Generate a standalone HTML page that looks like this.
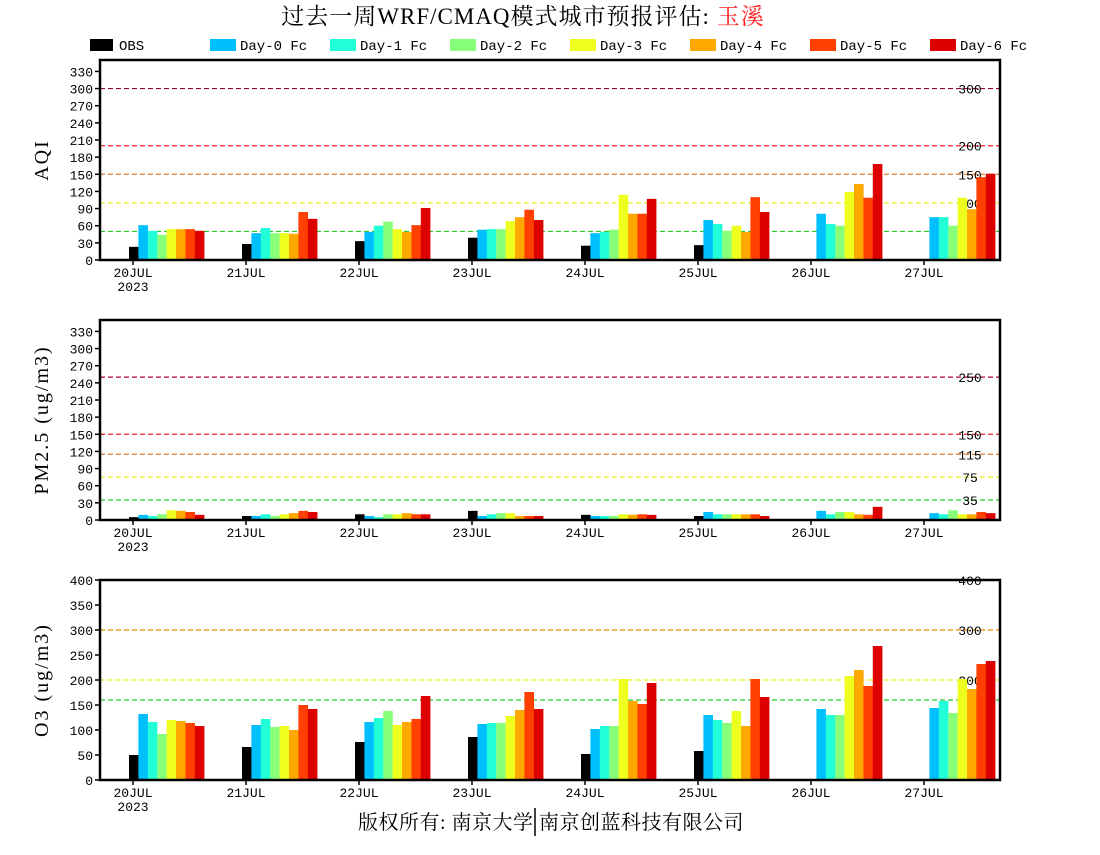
<!DOCTYPE html>
<html><head><meta charset="utf-8"><style>
body{margin:0;background:#fff;width:1100px;height:850px;overflow:hidden}
svg text{font-family:"Liberation Mono","Noto Serif CJK SC",monospace}
</style></head><body>
<svg id="s" width="1100" height="850" xmlns="http://www.w3.org/2000/svg">
<text x="523" y="24" text-anchor="middle" font-size="23" letter-spacing="1" style="font-family:'Liberation Serif','Noto Serif CJK SC',serif">过去一周WRF/CMAQ模式城市预报评估: <tspan fill="#ff2020">玉溪</tspan></text>
<text x="551" y="829" text-anchor="middle" font-size="20" letter-spacing="0.5" style="font-family:'Liberation Serif','Noto Serif CJK SC',serif">版权所有: 南京大学 南京创蓝科技有限公司</text>
<line x1="535" y1="808" x2="535" y2="836" stroke="#000" stroke-width="1.5"/>
</svg>
<script>
var s=document.getElementById('s'),NS='http://www.w3.org/2000/svg';
function el(t,a,txt){var e=document.createElementNS(NS,t);for(var k in a)e.setAttribute(k,a[k]);if(txt!=null)e.textContent=txt;s.appendChild(e);return e;}
var cols=['#000','#00bfff','#20ffd8','#88ff78','#eeff20','#ffa800','#ff4000','#dd0000'];
var names=['OBS','Day-0 Fc','Day-1 Fc','Day-2 Fc','Day-3 Fc','Day-4 Fc','Day-5 Fc','Day-6 Fc'];
for(var i=0;i<8;i++){var x=i==0?90:210+(i-1)*120;el('rect',{x:x,y:39,width:i==0?23:26,height:12,fill:cols[i]});el('text',{x:x+(i==0?29:30),y:50,'font-size':14},names[i]);}
var panels=[
{top:60,max:350,ticks:[0,30,60,90,120,150,180,210,240,270,300,330],label:'AQI',
lines:[[300,'#990033'],[200,'#ff2020'],[150,'#ee7722'],[100,'#eeee22'],[50,'#22cc22']],
data:[[23,61,51,44,54,54,54,51],[28,47,56,47,47,46,84,72],[33,49,60,67,54,49,61,91],[39,53,54,54,68,75,88,70],[25,47,49,53,114,81,81,107],[26,70,63,51,60,49,110,84],[0,81,63,60,119,133,109,168],[0,75,75,60,109,89,145,151]]},
{top:320,max:350,ticks:[0,30,60,90,120,150,180,210,240,270,300,330],label:'PM2.5 (ug/m3)',
lines:[[250,'#aa0044'],[150,'#ee2020'],[115,'#ee7722'],[75,'#eeee22'],[35,'#22cc22']],
data:[[5,9,7,10,17,16,14,9],[7,7,10,7,10,12,16,14],[10,7,5,10,10,12,10,10],[16,7,10,12,12,7,7,7],[9,7,7,7,10,9,10,9],[7,14,10,10,10,10,10,7],[0,16,10,14,14,10,9,23],[0,12,10,17,10,10,14,12]]},
{top:580,max:400,ticks:[0,50,100,150,200,250,300,350,400],label:'O3 (ug/m3)',
lines:[[400,'#ee0000'],[300,'#ee8800'],[200,'#eeee22'],[160,'#22cc22']],
data:[[50,132,116,92,120,118,114,108],[66,110,122,106,108,100,150,142],[76,116,124,138,110,116,122,168],[86,112,114,114,128,140,176,142],[52,102,108,108,202,158,152,194],[58,130,120,114,138,108,202,166],[0,142,130,130,208,220,188,268],[0,144,158,134,202,182,232,238]]}];
var days=['20JUL','21JUL','22JUL','23JUL','24JUL','25JUL','26JUL','27JUL'];
panels.forEach(function(p){
 var b=p.top+200,sc=200/p.max;
 p.lines.forEach(function(l){var y=b-l[0]*sc;el('line',{x1:100,x2:1000,y1:y,y2:y,stroke:l[1],'stroke-width':1.2,'stroke-dasharray':'5,3'});
  el('text',{x:970,y:y+5,'font-size':13,'text-anchor':'middle'},String(l[0]));});
 p.data.forEach(function(d,di){var x0=100+113*di+29;d.forEach(function(v,k){if(v<=0)return;el('rect',{x:x0+k*9.4,y:b-v*sc,width:9.6,height:v*sc,fill:cols[k]});});
  var tx=133+113*di;el('line',{x1:tx,x2:tx,y1:b,y2:b+5,stroke:'#000','stroke-width':1.5});
  el('text',{x:tx,y:b+17,'font-size':13,'text-anchor':'middle'},days[di]);
  if(di==0)el('text',{x:tx,y:b+31,'font-size':13,'text-anchor':'middle'},'2023');});
 p.ticks.forEach(function(t){var y=b-t*sc;el('line',{x1:95,x2:100,y1:y,y2:y,stroke:'#000','stroke-width':1.5});el('text',{x:93,y:y+5,'font-size':13,'text-anchor':'end'},String(t));});
 el('rect',{x:100,y:p.top,width:900,height:200,fill:'none',stroke:'#000','stroke-width':2.5});
 var cy=p.top+100;el('text',{x:0,y:0,'font-size':20,'letter-spacing':'2','text-anchor':'middle',transform:'translate(48,'+cy+') rotate(-90)',style:"font-family:'Liberation Serif',serif"},p.label);
});
</script>
</body></html>
